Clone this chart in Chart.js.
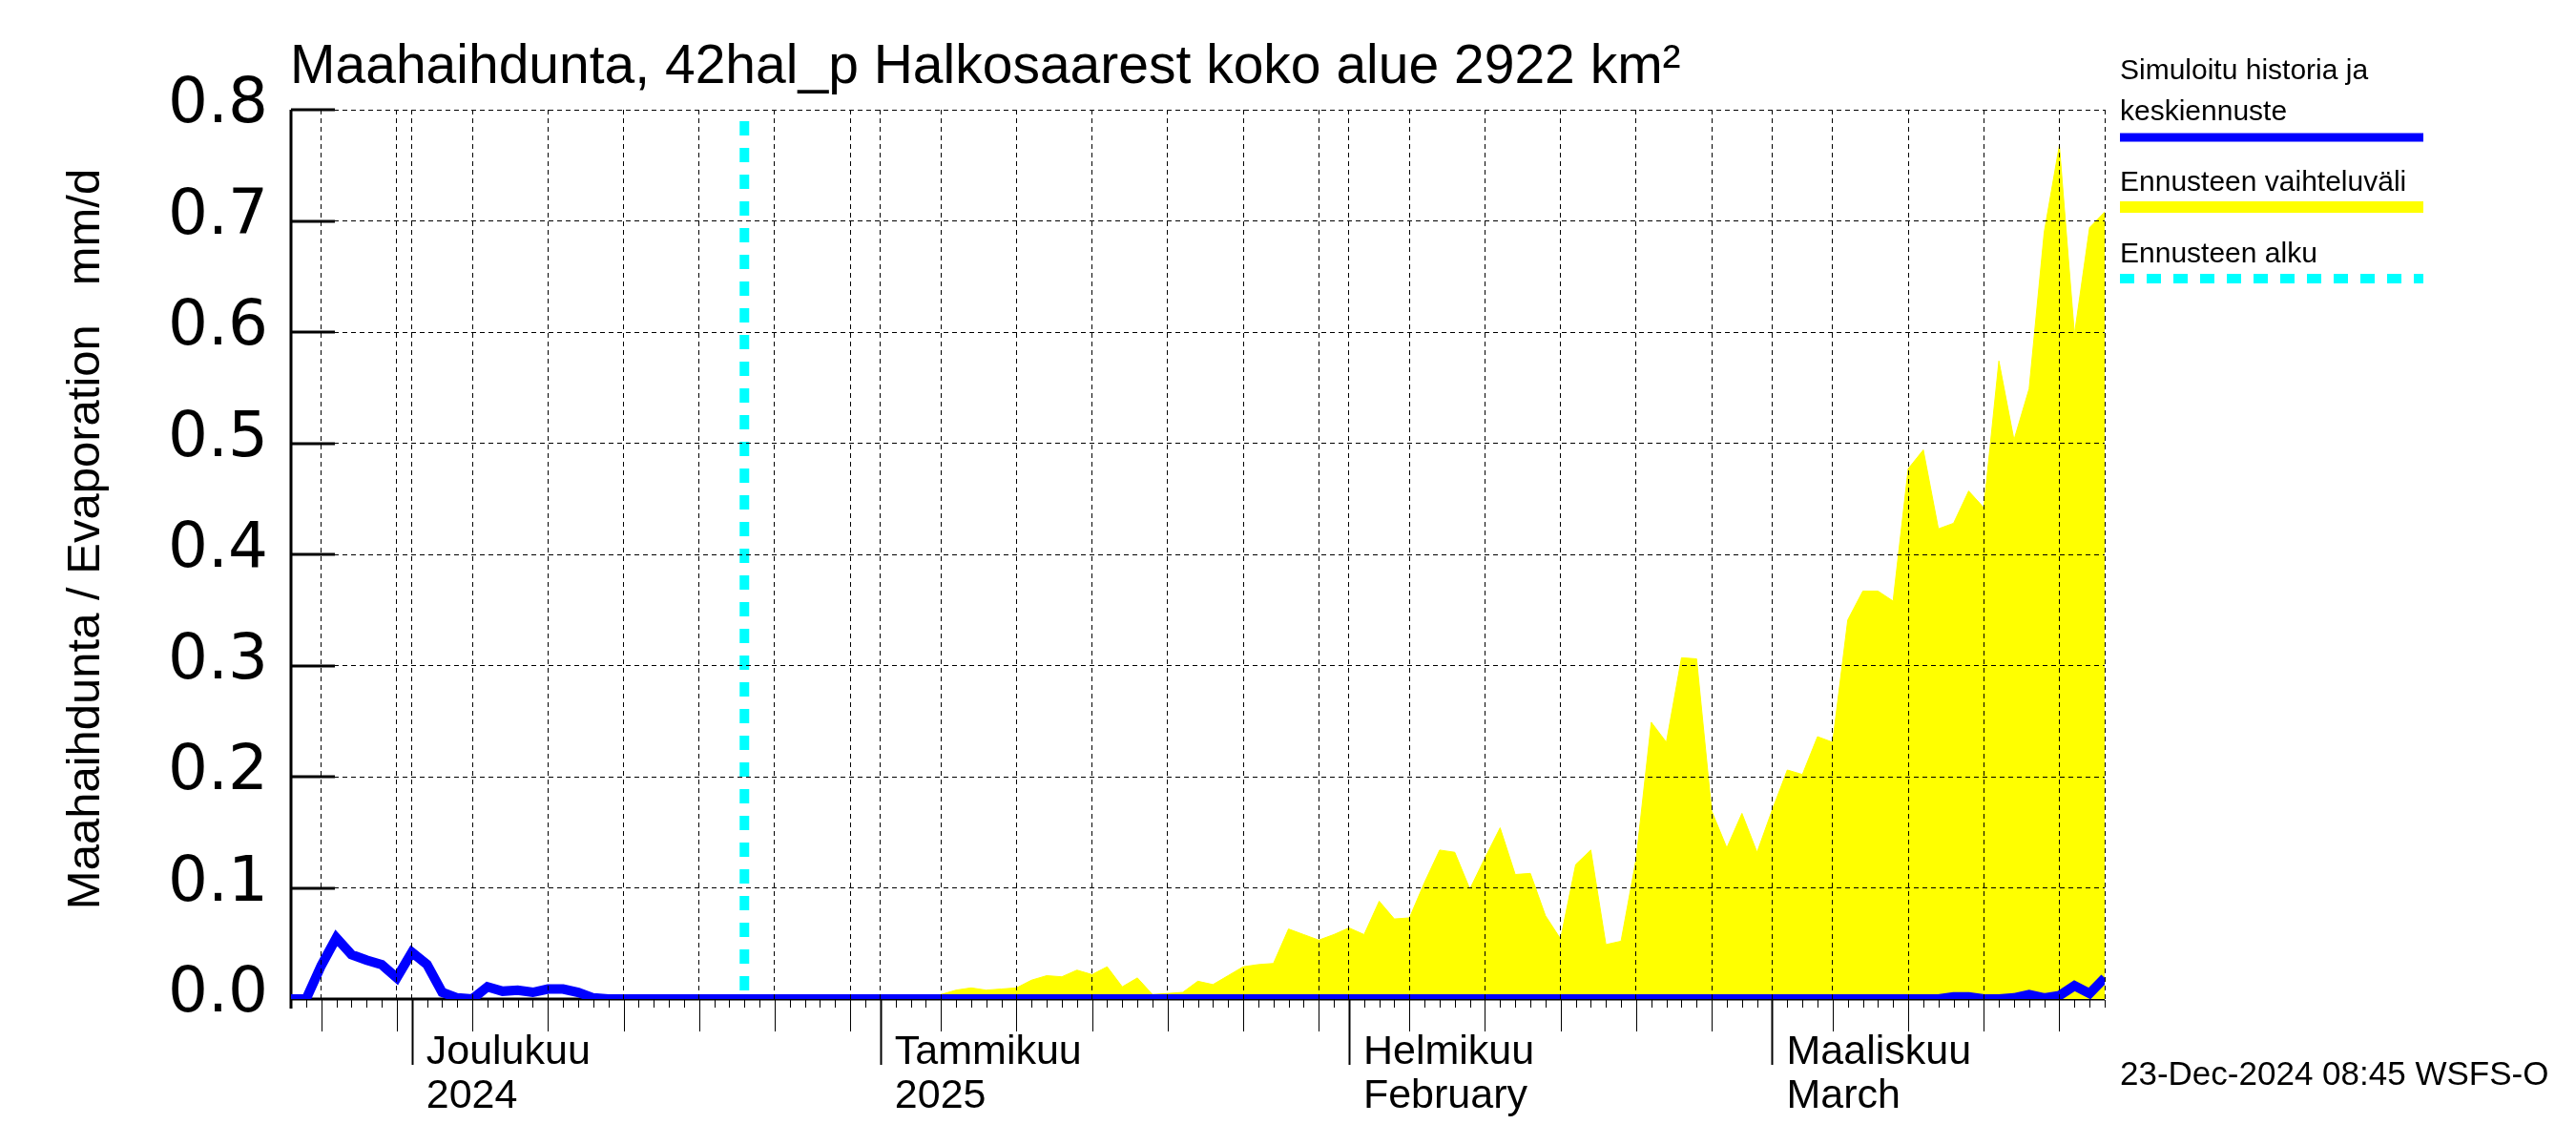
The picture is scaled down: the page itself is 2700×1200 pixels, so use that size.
<!DOCTYPE html>
<html>
<head>
<meta charset="utf-8">
<title>Maahaihdunta 42hal_p</title>
<script src="https://cdn.jsdelivr.net/npm/chart.js@4.4.1/dist/chart.umd.min.js"></script>
<style>
  html, body { margin: 0; padding: 0; background: #fff; }
  canvas { display: block; }
</style>
</head>
<body>
<canvas id="myChart" width="2700" height="1200" style="width:2700px;height:1200px"></canvas>
<script>
// day 0 = 23.11.2024, one value per day
var startYear = 2024, startMonth = 10, startDay = 23;
var lastDay = 120;
var forecastStart = 30;

// simuloitu historia ja keskiennuste, mm/d
var simHistory = [
    0, 0, 0.030, 0.055, 0.040, 0.035, 0.031, 0.019, 0.042, 0.031,
    0.006, 0.001, 0, 0.011, 0.007, 0.008, 0.006, 0.009, 0.009, 0.006,
    0.001,
    0, 0, 0, 0, 0, 0, 0, 0, 0, 0,
    0, 0, 0, 0, 0, 0, 0, 0, 0, 0,
    0, 0, 0, 0, 0, 0, 0, 0, 0, 0,
    0, 0, 0, 0, 0, 0, 0, 0, 0, 0,
    0, 0, 0, 0, 0, 0, 0, 0, 0, 0,
    0, 0, 0, 0, 0, 0, 0, 0, 0, 0,
    0, 0, 0, 0, 0, 0, 0, 0, 0, 0,
    0, 0, 0, 0, 0, 0, 0, 0, 0, 0,
    0, 0, 0, 0, 0, 0, 0, 0, 0,
    0.002, 0.002, 0, 0, 0.001, 0.004, 0.001, 0.003, 0.012, 0.005,
    0.019
];

// ennusteen vaihteluvali (ylaraja), alkaa paivasta forecastStart
var rangeMax = [
    0, 0, 0, 0, 0, 0, 0, 0, 0, 0, 0, 0, 0,
    0.004, 0.008, 0.010, 0.008, 0.009, 0.010, 0.017, 0.021, 0.020, 0.026,
    0.022, 0.029, 0.011, 0.019, 0.004, 0.005, 0.006, 0.016, 0.013, 0.021,
    0.029, 0.031, 0.032, 0.063, 0.058, 0.053, 0.058, 0.064,
    0.058, 0.088, 0.072, 0.073, 0.105, 0.134, 0.132, 0.099, 0.127, 0.154,
    0.112, 0.113, 0.075, 0.054, 0.121, 0.134, 0.049, 0.052, 0.126, 0.249,
    0.231, 0.307, 0.306, 0.169, 0.136, 0.167, 0.132, 0.170, 0.206, 0.202,
    0.236, 0.231, 0.341, 0.367, 0.367, 0.358, 0.477, 0.494, 0.423, 0.428,
    0.457, 0.442, 0.574, 0.503, 0.549, 0.690, 0.768, 0.598, 0.694, 0.708
];

var monthTicks = ['Joulukuu', 'Tammikuu', 'Helmikuu', 'Maaliskuu'];
var monthTicks2 = ['2024', '2025', 'February', 'March'];
var yTicks = [0, 0.1, 0.2, 0.3, 0.4, 0.5, 0.6, 0.7, 0.8];

var titleText = 'Maahaihdunta, 42hal_p Halkosaarest koko alue 2922 km\u00b2';
var yTitle = 'Maahaihdunta / Evaporation   mm/d';
var footer = '23-Dec-2024 08:45 WSFS-O';

var font = '"Liberation Sans", Arial, Helvetica, sans-serif';

function dateOf(i) {
    return new Date(startYear, startMonth, startDay + i);
}
function monthIndex(i) {
    var d = dateOf(i);
    if (d.getDate() !== 1) return -1;
    var n = 0;
    for (var k = 0; k < i; k++) if (dateOf(k).getDate() === 1) n++;
    return n;
}
function isGrid(i) {
    var dd = dateOf(i).getDate();
    return i === lastDay || (i > 0 && (dd === 1 || dd % 5 === 0));
}

var decorations = {
    id: 'decorations',
    beforeDatasetsDraw: function (chart) {
        // solid axis lines, under the data lines
        var ctx = chart.ctx, a = chart.chartArea;
        ctx.save();
        ctx.strokeStyle = '#000';
        ctx.lineWidth = 3;
        ctx.beginPath();
        ctx.moveTo(a.left, a.top);
        ctx.lineTo(a.left, a.bottom + 10);
        ctx.moveTo(a.left, a.bottom);
        ctx.lineTo(a.right, a.bottom);
        ctx.stroke();
        ctx.restore();
    },
    afterDraw: function (chart) {
        var ctx = chart.ctx, a = chart.chartArea;
        var x = chart.scales.x, y = chart.scales.y;
        ctx.save();
        ctx.strokeStyle = '#000';
        // tick marks under the time axis
        for (var i = 0; i <= lastDay; i++) {
            var px = Math.round(x.getPixelForValue(i)) + 0.5;
            var dd = dateOf(i).getDate();
            var len = 9, w = 1;
            if (dd === 1) { len = 69; w = 2; }
            else if (dd % 5 === 0) { len = 34; }
            ctx.lineWidth = w;
            ctx.beginPath();
            ctx.moveTo(px, a.bottom + 1);
            ctx.lineTo(px, a.bottom + len);
            ctx.stroke();
        }
        // inward y ticks
        ctx.lineWidth = 3;
        yTicks.forEach(function (v) {
            if (v === 0) return;
            var py = Math.round(y.getPixelForValue(v));
            ctx.beginPath();
            ctx.moveTo(a.left, py);
            ctx.lineTo(a.left + 46, py);
            ctx.stroke();
        });

        ctx.fillStyle = '#000';
        ctx.textAlign = 'left';
        ctx.textBaseline = 'alphabetic';
        ctx.font = '57px ' + font;
        ctx.fillText(titleText, a.left - 1, 87);

        ctx.font = '35px ' + font;
        ctx.fillText(footer, 2222, 1137);

        // y axis title
        ctx.save();
        ctx.translate(104, 565);
        ctx.rotate(-Math.PI / 2);
        ctx.textAlign = 'center';
        ctx.font = '49px ' + font;
        ctx.fillText(yTitle, 0, 0);
        ctx.restore();

        // legend
        var lx = a.right + 16, lx2 = a.right + 334;
        ctx.font = '30px ' + font;
        ctx.fillText('Simuloitu historia ja', lx, 83);
        ctx.fillText('keskiennuste', lx, 126);
        ctx.fillText('Ennusteen vaihteluv\u00e4li', lx, 200);
        ctx.fillText('Ennusteen alku', lx, 275);

        ctx.lineWidth = 9;
        ctx.strokeStyle = '#0000ff';
        ctx.beginPath(); ctx.moveTo(lx, 144); ctx.lineTo(lx2, 144); ctx.stroke();
        ctx.lineWidth = 12;
        ctx.strokeStyle = '#ffff00';
        ctx.beginPath(); ctx.moveTo(lx, 217); ctx.lineTo(lx2, 217); ctx.stroke();
        ctx.lineWidth = 10;
        ctx.strokeStyle = '#00ffff';
        ctx.setLineDash([15, 13]);
        ctx.beginPath(); ctx.moveTo(lx, 292); ctx.lineTo(lx2, 292); ctx.stroke();
        ctx.restore();
    }
};

var chart1 = document.getElementById('myChart');
var myChart = new Chart(chart1, {
    type: 'line',
    data: {
        datasets: [{
            label: 'Simuloitu historia ja keskiennuste',
            data: simHistory.map(function (v, i) { return {x: i, y: v}; }),
            borderColor: '#0000ff',
            borderWidth: 10,
            pointRadius: 0,
            fill: false,
            order: 0
        }, {
            label: 'Ennusteen alku',
            data: [{x: forecastStart, y: 0.8}, {x: forecastStart, y: 0}],
            borderColor: '#00ffff',
            borderWidth: 10,
            borderDash: [15, 13],
            borderDashOffset: 16,
            pointRadius: 0,
            fill: false,
            order: 1
        }, {
            label: 'Ennusteen vaihteluväli',
            data: rangeMax.map(function (v, i) { return {x: forecastStart + i, y: v}; }),
            borderColor: '#ffff00',
            backgroundColor: '#ffff00',
            borderWidth: 1,
            pointRadius: 0,
            fill: 'origin',
            order: 2
        }]
    },
    options: {
        responsive: false,
        devicePixelRatio: 1,
        animation: false,
        layout: {
            padding: {left: 0, right: 494, top: 115, bottom: 0}
        },
        plugins: {
            legend: {display: false},
            tooltip: {enabled: false},
            title: {display: false}
        },
        scales: {
            x: {
                type: 'linear',
                min: 0,
                max: lastDay,
                afterBuildTicks: function (scale) {
                    var t = [];
                    for (var i = 0; i <= lastDay; i++) t.push({value: i});
                    scale.ticks = t;
                },
                afterFit: function (scale) { scale.height = 153; },
                grid: {
                    color: function (c) {
                        return c.tick && isGrid(c.tick.value) ? '#000' : 'rgba(0,0,0,0)';
                    },
                    lineWidth: 1,
                    drawTicks: false,
                    z: 1
                },
                border: {display: false, dash: [5, 4]},
                ticks: {
                    autoSkip: false,
                    maxRotation: 0,
                    minRotation: 0,
                    align: 'start',
                    labelOffset: 15,
                    padding: 34,
                    color: '#000',
                    font: {family: font, size: 43, lineHeight: 1.05},
                    callback: function (value) {
                        var m = monthIndex(value);
                        return m >= 0 ? [monthTicks[m], monthTicks2[m]] : '';
                    }
                }
            },
            y: {
                min: 0,
                max: 0.8,
                afterBuildTicks: function (scale) {
                    scale.ticks = yTicks.map(function (v) { return {value: v}; });
                },
                afterFit: function (scale) { scale.width = 305; },
                grid: {
                    color: function (c) {
                        return c.tick && c.tick.value === 0 ? 'rgba(0,0,0,0)' : '#000';
                    },
                    lineWidth: 1,
                    drawTicks: false,
                    z: 1
                },
                border: {display: false, dash: [5, 4]},
                ticks: {
                    padding: 24,
                    labelOffset: -4,
                    color: '#000',
                    font: {family: '"DejaVu Sans", Verdana, sans-serif', size: 66},
                    callback: function (value) { return value.toFixed(1); }
                }
            }
        }
    },
    plugins: [decorations]
});
</script>
</body>
</html>
